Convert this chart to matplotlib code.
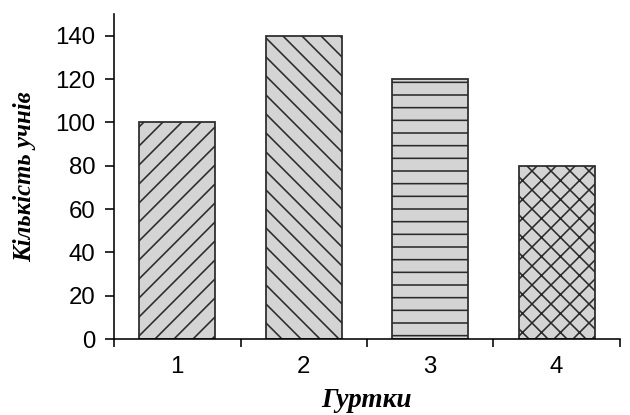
import matplotlib.pyplot as plt

# data
groups = ['1', '2', '3', '4']
pupils = [100, 140, 120, 80]
hatches = ['////', '\\\\\\\\', '---', 'xxxx']

# high dpi so the hatch spacing (fixed in inches) comes out fine enough
DPI = 228
plt.rcParams['hatch.linewidth'] = 0.5
plt.rcParams['hatch.color'] = '#1e1e1e'

fig = plt.figure(figsize=(630 / DPI, 415 / DPI), dpi=DPI)
ax = fig.add_axes([0.181, 0.183, 0.803, 0.783])

pos = range(1, len(groups) + 1)
for p, v, h in zip(pos, pupils, hatches):
    ax.bar(p, v, width=0.6, color='#d4d4d4', edgecolor='#2a2a2a',
           linewidth=0.55, hatch=h)

ax.set_xlim(0.5, 4.5)
ax.set_ylim(0, 150)
ax.set_yticks(range(0, 141, 20))
ax.set_xticks([0.5, 1.5, 2.5, 3.5, 4.5])
ax.set_xticklabels([])
ax.set_xticks(list(pos), minor=True)
ax.set_xticklabels(groups, minor=True)
ax.tick_params(axis='x', which='minor', length=0, pad=5.5)
ax.tick_params(axis='x', which='major', length=2.4, width=0.5)
ax.tick_params(axis='y', length=2.8, width=0.5, pad=3)
for lab in ax.get_xticklabels(minor=True) + ax.get_yticklabels():
    lab.set_fontfamily('Liberation Sans')
    lab.set_fontsize(7.6)

for s in ['top', 'right']:
    ax.spines[s].set_visible(False)
for s in ['left', 'bottom']:
    ax.spines[s].set_linewidth(0.5)

ax.set_xlabel('Гуртки', fontfamily='Liberation Serif', fontstyle='italic',
              fontweight='bold', fontsize=8.6, labelpad=3)
ax.set_ylabel('Кількість учнів', fontfamily='Liberation Serif', fontstyle='italic',
              fontweight='bold', fontsize=7.8, labelpad=6)

fig.savefig('out.png', dpi=DPI)
